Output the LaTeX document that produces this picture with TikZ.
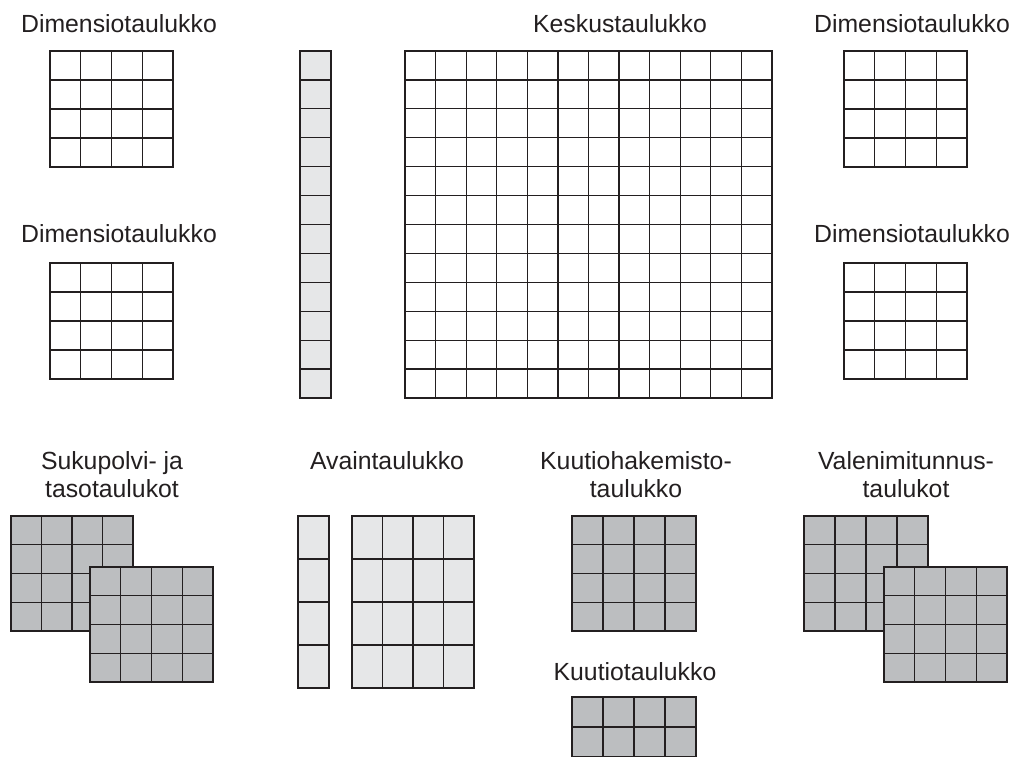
\documentclass[tikz,border=0pt]{standalone}
\usepackage{fontspec}
\setmainfont{Liberation Sans}
\definecolor{vaalea}{HTML}{E6E7E8}
\definecolor{tumma}{HTML}{BCBEC0}
\definecolor{viiva}{HTML}{231F20}

% ruudukko: [fill] x0, y0, x1, y1, columns, rows
\newcommand{\ruudukko}[7][white]{%
  \fill[#1] (#2,#3) rectangle (#4,#5);
  \foreach \i in {0,...,#6}
    \draw[viivat] ({#2+\i*(#4-#2)/#6},#3) -- ({#2+\i*(#4-#2)/#6},#5);
  \foreach \j in {0,...,#7}
    \draw[viivat] (#2,{#3+\j*(#5-#3)/#7}) -- (#4,{#3+\j*(#5-#3)/#7});
}

\begin{document}
\begin{tikzpicture}[x=1pt, y=-1pt,
	viivat/.style={line width=1.3pt, draw=viiva, line cap=rect},
	nimi/.style={anchor=base, inner sep=0, text=viiva,
				font=\fontsize{24.8}{28}\selectfont, align=center}]
	\useasboundingbox (0,0) rectangle (1022,756);
	\clip (0,0) rectangle (1022,756);

	% upper row
	\node[nimi] (dimA) at (119,32) {Dimensiotaulukko};
	\node[nimi] (keskus) at (620,32) {Keskustaulukko};
	\node[nimi] (dimB) at (912,32) {Dimensiotaulukko};
	\node[nimi] (dimC) at (119,242) {Dimensiotaulukko};
	\node[nimi] (dimD) at (912,242) {Dimensiotaulukko};

	\ruudukko{50}{51}{173}{167}{4}{4}
	\ruudukko{50}{263}{173}{379}{4}{4}
	\ruudukko[vaalea]{300}{51}{331}{398}{1}{12}
	\ruudukko{405}{51}{772}{398}{12}{12}
	\ruudukko{844}{51}{967}{167}{4}{4}
	\ruudukko{844}{263}{967}{379}{4}{4}

	% lower row (two-line labels sit on their last line)
	\node[nimi] (suku) at (112,497) {Sukupolvi- ja\\tasotaulukot};
	\node[nimi] (avain) at (387,469) {Avaintaulukko};
	\node[nimi] (hakem) at (636,497) {Kuutiohakemisto-\\taulukko};
	\node[nimi] (valen) at (906,497) {Valenimitunnus-\\taulukot};
	\node[nimi] (kuutio) at (635,680) {Kuutiotaulukko};

	\ruudukko[tumma]{11}{516}{133}{631}{4}{4}
	\ruudukko[tumma]{90}{567}{213}{682}{4}{4}
	\ruudukko[vaalea]{298}{516}{329}{688}{1}{4}
	\ruudukko[vaalea]{352}{516}{474}{688}{4}{4}
	\ruudukko[tumma]{572}{516}{696}{631}{4}{4}
	\ruudukko[tumma]{572}{697}{696}{757}{4}{2}
	\ruudukko[tumma]{804}{516}{928}{631}{4}{4}
	\ruudukko[tumma]{884}{567}{1007}{682}{4}{4}

\end{tikzpicture}
\end{document}
